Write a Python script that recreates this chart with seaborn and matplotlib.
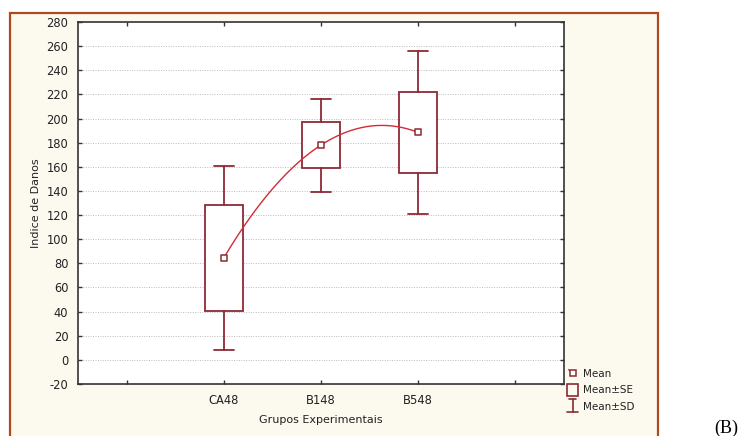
import numpy as np
import pandas as pd
import matplotlib
matplotlib.use("Agg")
import matplotlib.pyplot as plt
import seaborn as sns
from matplotlib.patches import Rectangle
from matplotlib.lines import Line2D
from matplotlib.legend_handler import HandlerBase

# ---- data ----
groups = ["CA48", "B148", "B548"]
positions = [1, 2, 3]
means = [84.5, 178.0, 188.5]
se_low = [40.5, 159.0, 154.5]
se_high = [128.5, 197.0, 222.0]
sd_low = [8.0, 139.5, 120.5]
sd_high = [160.5, 216.0, 256.0]
y_ticks = list(range(-20, 281, 20))
x_ticks = [0, 1, 2, 3, 4]
x_ticklabels = ["", "CA48", "B148", "B548", ""]

df = pd.DataFrame({"pos": positions, "mean": means, "group": groups})

BOX_C = "#8c2a36"
LINE_C = "#d42a36"

sns.set_theme(style="white")
plt.rcParams["font.family"] = ["DejaVu Sans"]
plt.rcParams["axes.unicode_minus"] = False

W, H = 743, 436
fig = plt.figure(figsize=(W / 100, H / 100), dpi=100)
fig.patch.set_facecolor("white")

# cream frame with orange-brown border
frame = Rectangle((10 / W, 1 - 440 / H), (658 - 10) / W, (440 - 13) / H,
                  transform=fig.transFigure, facecolor="#fcf9ef",
                  edgecolor="#b04a1c", linewidth=1.6, zorder=-10)
fig.patches.append(frame)

ax = fig.add_axes([78 / W, 1 - 384 / H, (564 - 78) / W, (384 - 22) / H])
ax.set_zorder(1)
ax.set_facecolor("white")

# grid
for yv in y_ticks:
    if -20 < yv < 280:
        ax.axhline(yv, color="#bdbdbd", lw=0.7, ls=(0, (1, 1.5)), zorder=0.5)

# boxes (mean ± SE) and whiskers (mean ± SD)
stats = []
for g, m, sl, sh, dl, dh in zip(groups, means, se_low, se_high, sd_low, sd_high):
    stats.append(dict(label=g, med=m, q1=sl, q3=sh, whislo=dl, whishi=dh, fliers=[]))
ax.bxp(stats, positions=positions, widths=0.39, capwidths=0.21,
       patch_artist=True, showfliers=False,
       boxprops=dict(facecolor="white", edgecolor=BOX_C, linewidth=1.3),
       whiskerprops=dict(color=BOX_C, linewidth=1.3),
       capprops=dict(color=BOX_C, linewidth=1.3),
       medianprops=dict(linewidth=0), manage_ticks=False, zorder=2)

# quadratic fit through the means
sns.regplot(data=df, x="pos", y="mean", order=2, ci=None, scatter=False,
            truncate=True, ax=ax, line_kws=dict(color=LINE_C, lw=1.0, zorder=3))
sns.scatterplot(data=df, x="pos", y="mean", marker="s", s=18, color="white",
                edgecolor=BOX_C, linewidth=1.1, ax=ax, zorder=4, legend=False)

ax.set_xlim(-0.5, 4.5)
ax.set_ylim(-20, 280)
ax.set_xticks(x_ticks)
ax.set_xticklabels(x_ticklabels)
ax.set_yticks(y_ticks)
ax.tick_params(axis="both", direction="in", length=3, width=1, color="#333333",
               labelsize=8.3, labelcolor="#222222", top=True, right=True,
               bottom=True, left=True)
ax.tick_params(axis="y", pad=7)
ax.tick_params(axis="x", pad=7)
for s in ax.spines.values():
    s.set_color("#333333")
    s.set_linewidth(1.2)

ax.set_xlabel("Grupos Experimentais", fontsize=8, color="#222222", labelpad=6)
ax.set_ylabel("Indice de Danos", fontsize=8, color="#222222", labelpad=4)


# ---- legend ----
class HMean(HandlerBase):
    def create_artists(self, legend, orig, xd, yd, w, h, fs, trans):
        cx, cy = w * 0.55 - xd, h / 2 - yd
        ln = Line2D([cx - 0.35 * w, cx], [cy + 0.45 * h, cy], color=LINE_C, lw=0.9, transform=trans)
        mk = Line2D([cx], [cy], marker="s", ms=4, mfc="white", mec=BOX_C, mew=1.1,
                    ls="none", transform=trans)
        return [ln, mk]


class HBox(HandlerBase):
    def create_artists(self, legend, orig, xd, yd, w, h, fs, trans):
        r = Rectangle((0.1 * w - xd, -0.2 * h - yd), 0.85 * w, 1.4 * h,
                      facecolor="none", edgecolor=BOX_C, lw=1.2, transform=trans)
        return [r]


class HBeam(HandlerBase):
    def create_artists(self, legend, orig, xd, yd, w, h, fs, trans):
        cx = 0.52 * w - xd
        y0, y1 = -0.25 * h - yd, 1.25 * h - yd
        a = Line2D([cx, cx], [y0, y1], color=BOX_C, lw=1.2, transform=trans)
        b = Line2D([cx - 0.45 * w, cx + 0.45 * w], [y0, y0], color=BOX_C, lw=1.2, transform=trans)
        c = Line2D([cx - 0.25 * w, cx + 0.25 * w], [y1, y1], color=BOX_C, lw=1.2, transform=trans)
        return [a, b, c]


h1, h2, h3 = object(), object(), object()
leg = fig.legend([h1, h2, h3], ["Mean", "Mean±SE", "Mean±SD"],
                 handler_map={h1: HMean(), h2: HBox(), h3: HBeam()},
                 loc="upper left", bbox_to_anchor=(566 / W, 1 - 369 / H),
                 frameon=False, fontsize=7.5, handlelength=1.2, handleheight=0.9,
                 handletextpad=0.45, labelspacing=0.6, borderpad=0, borderaxespad=0)
for t in leg.get_texts():
    t.set_color("#222222")

fig.text(726 / W, 1 - 428 / H, "(B)", family="Liberation Serif", fontsize=13,
         ha="center", va="center", color="black")

fig.savefig("out.png", dpi=100)
